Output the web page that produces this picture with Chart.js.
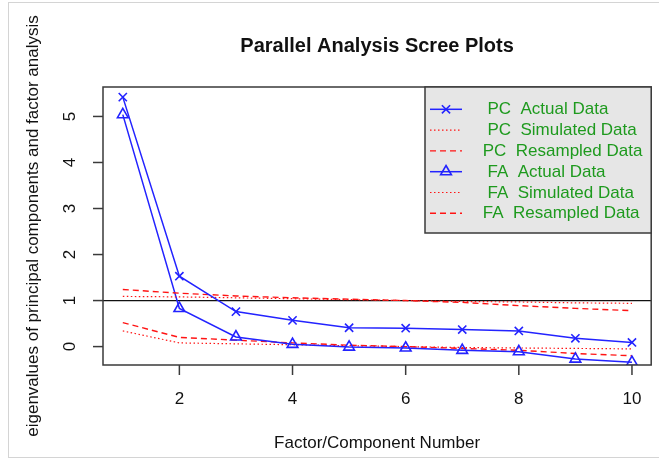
<!DOCTYPE html>
<html>
<head>
<meta charset="utf-8">
<script src="https://cdn.jsdelivr.net/npm/chart.js@4.4.1/dist/chart.umd.min.js"></script>
<style>
  html, body { margin: 0; padding: 0; background: #ffffff; }
  #wrap { position: relative; width: 659px; height: 460px; }
  #frame { position: absolute; left: 8px; top: 2px; width: 660px; height: 456px; border-left: 1px solid #d4d4d4; border-top: 1px solid #d4d4d4; border-bottom: 1px solid #d4d4d4; box-sizing: border-box; pointer-events: none; }
  canvas { position: absolute; left: 0; top: 0; }
</style>
</head>
<body>
<div id="wrap">
  <canvas id="c" width="659" height="460"></canvas>
  <div id="frame"></div>
</div>
<script>
// ---- data ----
const components = [1, 2, 3, 4, 5, 6, 7, 8, 9, 10];
const pcActual    = [5.42, 1.53, 0.76, 0.57, 0.41, 0.40, 0.37, 0.34, 0.18, 0.09];
const pcSimulated = [1.09, 1.08, 1.06, 1.04, 1.02, 1.00, 0.98, 0.97, 0.95, 0.94];
const pcResampled = [1.24, 1.16, 1.10, 1.06, 1.03, 1.00, 0.96, 0.89, 0.83, 0.78];
const faActual    = [5.04, 0.83, 0.21, 0.05, -0.01, -0.03, -0.08, -0.11, -0.27, -0.34];
const faSimulated = [0.34, 0.08, 0.06, 0.04, 0.02, 0.00, -0.02, -0.03, -0.04, -0.05];
const faResampled = [0.52, 0.20, 0.14, 0.08, 0.03, 0.00, -0.04, -0.08, -0.15, -0.20];
const xTicks = [2, 4, 6, 8, 10];
const yTicks = [0, 1, 2, 3, 4, 5];
const legendLabels = ["  PC  Actual Data", "  PC  Simulated Data", " PC  Resampled Data",
                      "  FA  Actual Data", "  FA  Simulated Data", " FA  Resampled Data"];
const titleText = "Parallel Analysis Scree Plots";
const xTitle = "Factor/Component Number";
const yTitle = "eigenvalues of principal components and factor analysis";
const referenceLine = 1;

// ---- styles ----
const FONT = "'Liberation Sans', Arial, Helvetica, sans-serif";
const BLUE = "rgb(35,35,255)";
const RED = "rgb(255,20,20)";
const pts = arr => arr.map((v, i) => ({ x: components[i], y: v }));

function ds(label, values, opts) {
  return Object.assign({
    label: label, data: pts(values), borderColor: RED, backgroundColor: 'rgba(0,0,0,0)',
    borderWidth: 1.4, pointRadius: 0, pointHoverRadius: 0, tension: 0, fill: false
  }, opts);
}

const datasets = [
  ds(legendLabels[0], pcActual, { borderColor: BLUE, borderWidth: 1.5, pointStyle: 'crossRot', pointRadius: 5.8, pointBorderColor: BLUE, pointBorderWidth: 1.6 }),
  ds(legendLabels[1], pcSimulated, { borderDash: [1.5, 2.5], borderWidth: 1.2 }),
  ds(legendLabels[2], pcResampled, { borderDash: [6, 4] }),
  ds(legendLabels[3], faActual, { borderColor: BLUE, borderWidth: 1.5, pointStyle: 'triangle', pointRadius: 6.2, pointBorderColor: BLUE, pointBorderWidth: 1.6, pointBackgroundColor: 'rgba(0,0,0,0)' }),
  ds(legendLabels[4], faSimulated, { borderDash: [1.5, 2.5], borderWidth: 1.2 }),
  ds(legendLabels[5], faResampled, { borderDash: [6, 4] })
];

const decor = {
  id: 'decor',
  beforeDatasetsDraw(chart) {
    const ctx = chart.ctx, a = chart.chartArea, ys = chart.scales.y;
    ctx.save();
    ctx.strokeStyle = '#111';
    ctx.lineWidth = 1.2;
    const py = ys.getPixelForValue(referenceLine);
    ctx.beginPath(); ctx.moveTo(a.left, py); ctx.lineTo(a.right, py); ctx.stroke();
    ctx.restore();
  },
  afterDraw(chart) {
    const ctx = chart.ctx, a = chart.chartArea, xs = chart.scales.x, ys = chart.scales.y;
    ctx.save();
    // plot box
    ctx.strokeStyle = '#3a3a3a';
    ctx.lineWidth = 1.5;
    ctx.strokeRect(a.left, a.top, a.right - a.left, a.bottom - a.top);
    // x ticks
    ctx.fillStyle = '#111';
    ctx.font = '17px ' + FONT;
    ctx.textAlign = 'center';
    ctx.textBaseline = 'alphabetic';
    xTicks.forEach(v => {
      const px = xs.getPixelForValue(v);
      ctx.beginPath(); ctx.moveTo(px, a.bottom); ctx.lineTo(px, a.bottom + 10); ctx.stroke();
      ctx.fillText(String(v), px, 404);
    });
    // y ticks (rotated labels like R)
    yTicks.forEach(v => {
      const py = ys.getPixelForValue(v);
      ctx.beginPath(); ctx.moveTo(a.left, py); ctx.lineTo(a.left - 10, py); ctx.stroke();
      ctx.save();
      ctx.translate(75, py);
      ctx.rotate(-Math.PI / 2);
      ctx.fillText(String(v), 0, 0);
      ctx.restore();
    });
    // axis titles
    ctx.fillText(xTitle, (a.left + a.right) / 2, 448);
    ctx.save();
    ctx.translate(38, (a.top + a.bottom) / 2);
    ctx.rotate(-Math.PI / 2);
    ctx.fillText(yTitle, 0, 0);
    ctx.restore();
    // main title
    ctx.font = 'bold 20px ' + FONT;
    ctx.fillText(titleText, (a.left + a.right) / 2, 52);

    // legend box
    const lx = 425, ly = a.top, lw = a.right - 425, lh = 146;
    ctx.fillStyle = '#e6e6e6';
    ctx.fillRect(lx, ly, lw, lh);
    ctx.strokeStyle = '#3a3a3a';
    ctx.lineWidth = 1.5;
    ctx.strokeRect(lx, ly, lw, lh);
    ctx.font = '17px ' + FONT;
    ctx.textAlign = 'left';
    ctx.textBaseline = 'middle';
    chart.data.datasets.forEach((d, i) => {
      const ry = 109.3 + i * 20.8;
      ctx.save();
      ctx.strokeStyle = d.borderColor;
      ctx.lineWidth = d.borderWidth;
      ctx.setLineDash(d.borderDash || []);
      ctx.beginPath(); ctx.moveTo(430, ry); ctx.lineTo(462, ry); ctx.stroke();
      ctx.setLineDash([]);
      if (d.pointRadius > 0) {
        ctx.fillStyle = 'rgba(0,0,0,0)';
        ctx.strokeStyle = d.pointBorderColor;
        ctx.lineWidth = d.pointBorderWidth;
        Chart.helpers.drawPoint(ctx, {
          pointStyle: d.pointStyle, radius: d.pointRadius, borderWidth: d.pointBorderWidth, rotation: 0
        }, 446, ry);
      }
      ctx.restore();
      ctx.fillStyle = '#1e9a1e';
      ctx.fillText(d.label, 478, ry + 0.5);
    });
    ctx.restore();
  }
};

new Chart(document.getElementById('c'), {
  type: 'line',
  data: { datasets: datasets },
  options: {
    responsive: false,
    devicePixelRatio: 1,
    animation: false,
    events: [],
    layout: { padding: { left: 103, top: 87, right: 7, bottom: 95 } },
    plugins: { legend: { display: false }, title: { display: false }, tooltip: { enabled: false } },
    scales: {
      x: { type: 'linear', min: 0.65, max: 10.34, display: false },
      y: { type: 'linear', min: -0.40, max: 5.64, display: false }
    }
  },
  plugins: [decor]
});
</script>
</body>
</html>
